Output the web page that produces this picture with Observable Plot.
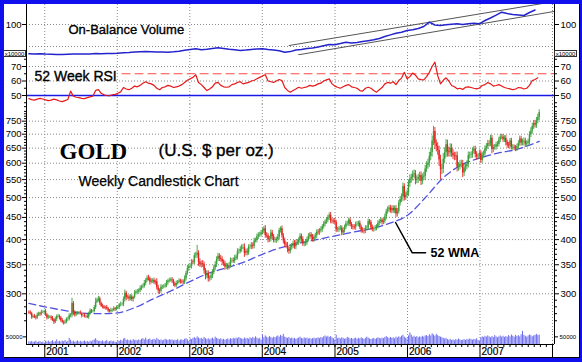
<!DOCTYPE html>
<html><head><meta charset="utf-8">
<script src="https://cdn.jsdelivr.net/npm/d3@7"></script>
<script src="https://cdn.jsdelivr.net/npm/@observablehq/plot@0.6"></script>
<style>
html,body{margin:0;padding:0;background:#fff;}
#wrap{position:relative;width:582px;height:362px;background:#1010ee;overflow:hidden;}
#inner{position:absolute;left:4px;top:4px;width:576px;height:354px;background:#fff;border-right:1px solid #000;border-bottom:1px solid #000;box-sizing:border-box;}
.box{position:absolute;border:1px solid #333;background:#fff;font:6px Arial,'Liberation Sans',sans-serif;line-height:6px;text-align:center;color:#000;box-sizing:border-box;}
</style></head>
<body>
<div id="wrap"><div id="inner"></div></div>
<script>
// ---------- DATA ----------
// weekly closes (Fridays), starting 2000-10-13
const close2000 = [271,270,265,266,265,264,268,270,269,272,272,273];
const close2001 = [268,264,265,265, 263,261,258,262, 266,266,264,260,258, 257,258,262,262, 267,268,285,272, 268,270,271,271,270, 267,267,266,266, 265,270,274,273,273, 279,287,290,292, 285,281,280,278, 279,277,274,273,275, 275,277,276,278];
const close2002 = [279,283,283,283, 291,301,294,295, 292,295,291,294,301, 303,303,305,309, 311,312,317,322,326, 325,319,321,322, 318,320,310,305, 304,311,311,312,313, 318,321,322,323, 321,316,313,317, 319,321,320,319,318, 325,334,343,347];
const close2003 = [347,355,354,367,368, 372,355,350,352, 350,339,330,334, 325,326,330,336, 344,350,360,366,362, 360,355,352,346, 348,346,348,358, 358,357,362,364,375, 375,380,384,384, 372,375,373,384,384, 388,386,397,398, 406,410,410,415];
const close2004 = [418,424,409,408,399, 401,414,406,398, 398,400,405,420, 424,408,397,389,388, 380,376,384,387, 392,385,394,393, 399,407,400,391,391, 394,400,407,410, 405,400,405,408, 416,415,419,422,428, 434,439,443,450, 455,441,440,442,438];
const close2005 = [421,421,424,425, 414,420,427,435, 435,443,433,428, 427,426,434,434,436, 427,420,419,418, 425,425,440,438, 426,422,423,425,428, 436,440,443,438, 441,451,464,469,473, 466,472,466,472, 458,464,485,495, 502,530,500,506,513];
const close2006 = [539,552,556,565, 567,548,550,556, 562,545,557,560,582, 593,600,622,635, 675,710,665,655, 642,610,580,582,613, 634,662,638,634, 650,632,624,621, 624,587,590,597,598, 570,585,590,596, 625,625,627,640, 646,628,620,622,632];
const close2007 = [609,626,631,648, 656,666,665,685, 645,652,653,662,663, 679,689,690,680, 685,669,660,657, 675,653,653,650,648, 655,666,682,668, 672,674,664,667,672, 698,712,729,741, 735,752,765,785];
const firstOpen = 272;

// upper / lower wick length ($) per week
const up2000 = [2,3,2,2,3,2,3,2,2,3,2,2];
const dn2000 = [2,2,3,2,2,3,2,2,3,2,2,3];
const up2001 = [3,2,3,2, 2,3,2,3, 2,3,2,2,3, 2,3,2,3, 3,2,8,3, 2,3,2,2,3, 2,2,3,2, 3,2,3,2,2, 3,6,3,4, 3,2,3,2, 2,3,2,2,3, 2,3,2,3];
const dn2001 = [2,3,2,2, 3,2,3,2, 3,2,3,2,2, 3,2,2,3, 2,3,4,5, 3,2,2,3,2, 3,2,2,3, 2,3,2,3,2, 2,3,2,3, 3,2,3,2, 3,2,3,2,2, 3,2,3,2];
const up2002 = [3,2,4,3, 4,5,3,3, 3,4,3,2,4, 3,4,3,4, 3,4,5,3,4, 5,3,4,3, 4,3,5,4, 3,4,3,3,4, 4,3,4,3, 4,3,3,4, 3,4,3,3,4, 5,4,6,4];
const dn2002 = [2,3,3,2, 3,4,5,3, 4,3,3,4,2, 3,3,4,3, 4,3,3,4,3, 4,5,3,4, 3,4,4,5, 5,3,4,3,3, 3,4,3,3, 4,4,3,3, 3,3,4,3,3, 3,4,3,5];
const up2003 = [4,5,4,5,6, 16,5,6,5, 6,5,4,5, 5,4,5,5, 5,6,5,6,5, 6,5,4,5, 5,4,6,5, 4,5,6,5,6, 5,6,5,6, 7,5,6,5,6, 6,5,6,5, 6,5,6,5];
const dn2003 = [4,5,4,4,5, 6,8,5,6, 5,6,7,5, 6,5,4,5, 4,5,5,4,6, 5,6,5,6, 5,6,5,4, 5,4,5,4,5, 5,4,6,5, 8,5,6,5,4, 5,6,5,4, 5,6,5,4];
const up2004 = [6,5,7,6,5, 6,7,6,5, 6,5,6,5, 4,6,5,6,5, 6,5,6,5, 5,6,5,6, 5,6,5,6,5, 6,5,6,5, 5,6,5,6, 5,6,5,6,5, 6,5,6,5, 6,7,6,5,6];
const dn2004 = [5,6,6,5,6, 5,6,6,5, 5,6,5,6, 6,5,6,5,6, 7,6,5,6, 6,5,6,5, 5,6,6,5,6, 5,6,5,6, 5,5,6,5, 6,5,6,5,6, 5,6,5,6, 7,6,5,6,5];
const up2005 = [5,6,5,6, 5,6,5,6, 6,5,6,5, 5,6,5,6,5, 6,5,6,5, 6,5,6,5, 5,6,5,6,5, 6,5,6,5, 6,7,6,7,6, 7,6,7,6, 7,8,7,8, 8,10,8,9,8];
const dn2005 = [6,5,6,5, 6,5,6,5, 5,6,5,6, 6,5,6,5,6, 5,6,5,6, 5,6,5,6, 6,5,6,5,6, 5,6,5,6, 5,6,7,6,7, 6,7,6,7, 8,7,6,7, 8,12,9,8,9];
const up2006 = [10,12,10,11, 12,10,11,10, 10,11,10,12,11, 12,13,14,15, 18,20,15,14, 14,15,16,15,18, 17,18,16,15, 15,14,13,12, 12,13,12,11,12, 11,12,11,12, 12,11,10,11, 10,11,10,9,10];
const dn2006 = [10,11,12,10, 11,13,10,11, 11,12,10,11,12, 11,12,13,14, 15,16,20,18, 16,20,30,15,14, 15,16,18,14, 14,13,12,13, 12,14,12,11,12, 14,11,12,11, 11,12,10,11, 10,11,10,9,10];
const up2007 = [9,10,9,10, 10,11,10,11, 10,9,10,9,10, 10,9,10,9, 9,10,9,10, 9,10,9,8,9, 9,10,11,10, 10,12,11,9,10, 11,12,13,12, 12,13,14,12];
const dn2007 = [10,9,10,9, 9,10,11,10, 14,10,9,10,9, 9,10,9,10, 10,11,10,9, 10,9,10,9,10, 9,10,9,11, 10,15,12,10,9, 10,11,12,11, 12,13,12,13];

// weekly volume (thousands)
const vol2000 = [18,15,20,14,16,22,13,17,19,12,15,10];
const vol2001 = [20,16,22,14,18,25,15,19,30,17,21,16,23, 18,26,15,20,40,28,17,22,14,19,24,16,21, 15,18,23,16,20,14,22,17,25,30,38,26,19, 22,18,24,16,20,27,15,19,23,17,21,14,12];
const vol2002 = [24,20,28,22,35,40,26,30,24,28,22,32,25, 28,24,30,26,34,38,30,42,28,32,36,26,30, 34,28,40,32,26,30,24,28,34,30,26,32,28, 30,24,28,26,32,22,28,30,26,34,38,30,20];
const vol2003 = [36,32,40,45,38,50,42,36,40,34,46,38,32, 38,30,36,42,34,48,40,36,32,38,30,34,28, 32,36,30,38,34,40,36,42,38,46,40,36,34, 42,36,40,34,44,38,46,40,50,42,36,40,28];
const vol2004 = [62,44,56,48,42,52,46,40,48,44,50,56,48, 60,52,66,48,44,40,46,38,42,36,40,34,38, 42,48,40,36,44,38,42,36,40,34,38,42,36, 40,44,38,46,42,50,56,48,54,46,52,44,38,30];
const vol2005 = [60,38,42,36,44,40,34,38,46,42,36,40,34, 38,42,34,40,36,44,38,34,40,48,42,36,32, 36,40,34,38,44,40,36,42,38,46,52,44,40, 46,40,44,38,48,42,50,46,54,60,48,42,36];
const vol2006 = [56,76,62,48,54,46,52,44,50,46,54,48,56, 58,52,64,56,70,62,54,66,58,52,48,44,40, 36,40,32,28,34,26,30,24,32,28,36,30,26, 28,32,26,34,30,36,32,28,34,30,38,26,22];
const vol2007 = [44,50,46,54,48,56,50,44,52,46,58,50,44, 50,56,48,54,46,52,48,58,50,62,54,48,60, 52,58,50,64,86,60,54,48,56,62,58,50,56, 60,66,58,62];

// 52-week RSI, every two weeks from 2000-10-13
const rsi2000 = [47.8,47.2,46.8,47.5,48.0,47.6];
const rsi2001 = [47.0,46.5,46.8,47.5,47.0,46.2,45.8,46.5,47.2,53.0,49.5,48.8,48.5,48.0,47.8,48.5,49.0,49.5,53.5,54.0,51.5,50.5,50.0,49.8,50.5,50.8];
const rsi2002 = [51.5,52.5,55.5,54.5,54.0,55.0,56.5,56.0,57.0,58.5,59.5,58.5,58.0,57.0,55.0,54.0,55.5,56.0,57.0,56.5,55.5,56.0,56.5,57.5,59.0,60.5];
const rsi2003 = [61.5,62.5,64.3,59.0,57.5,55.5,53.4,54.5,56.0,58.5,59.0,57.0,56.0,55.7,56.0,57.5,58.0,59.0,59.5,58.0,58.5,59.0,60.0,60.5,61.5,62.5];
const rsi2004 = [63.5,64.3,60.0,59.5,59.0,60.0,61.0,60.3,55.5,53.5,52.3,53.5,54.5,55.7,55.0,55.5,56.0,57.0,56.5,57.0,58.0,58.5,60.0,60.8,61.5,58.0,56.5];
const rsi2005 = [55.7,55.0,56.0,57.0,57.5,56.0,55.5,55.0,53.4,53.0,55.0,55.7,55.0,53.5,52.3,54.0,55.5,58.0,59.0,58.5,59.5,57.5,60.3,62.0,66.0,61.5];
const rsi2006 = [63.0,65.5,64.0,61.5,61.0,60.8,63.0,66.0,70.0,73.0,63.8,58.0,60.5,62.2,60.0,56.9,56.0,54.6,55.0,54.2,55.7,56.0,55.5,55.0,54.6,55.2];
const rsi2007 = [56.9,57.5,59.0,58.0,56.5,56.9,57.5,56.5,55.5,55.0,54.6,54.0,54.5,55.5,55.3,54.5,55.0,57.0,60.3,61.0,62.2];
const rsiOverbought = 65;
const rsiMid = 50;

// On-Balance Volume (x10000 units), every four weeks from 2000-10-13
const obvValues = [41.5,41.0,41.5,40.8,40.5,40.2,40.0,40.6,41.2,40.8, 41.0,41.2,42.0,41.6,41.8,42.2,42.6,43.5,44.0,44.8, 45.5,46.2,45.6,44.8,45.0,44.6,45.4,46.5,48.6,50.2, 51.4,49.4,50.4,52.2,53.4,52.0,50.6,49.5,48.2,49.0, 50.2,51.0,51.4,50.0,49.2,47.6,44.6,45.8,49.0,50.2, 52.0,53.0,54.8,57.6,60.2,59.6,61.8,64.6,63.2,64.0, 66.0,67.6,69.4,72.0,76.0,79.2,82.4,84.6,88.0,89.6, 92.0,96.0,104.6,99.0,98.0,99.4,100.6,101.4,100.0,101.6, 102.4,101.4,108.0,113.0,118.6,124.6,122.0,120.0,119.0,118.0, 124.0,129.0];
const obvChannelUpper = [{date:"2004-05-15", v:58}, {date:"2008-01-11", v:146}];
const obvChannelLower = [{date:"2004-07-01", v:39.4}, {date:"2008-01-08", v:126}];

// 52-week weighted moving average
const wmaDates = ["2000-10-13","2001-01-01","2001-04-01","2001-07-01","2001-10-01","2002-01-01","2002-04-01","2002-07-01","2002-10-01","2003-01-01","2003-04-01","2003-07-01","2003-10-01","2004-01-01","2004-04-01","2004-07-01","2004-10-01","2005-01-01","2005-04-01","2005-07-01","2005-10-01","2006-01-01","2006-04-01","2006-07-01","2006-10-01","2007-01-01","2007-04-01","2007-07-01","2007-10-26"];
const wmaValues = [285,280,275,271,270,271,279,292,305,320,334,344,355,370,383,392,400,408,416,424,436,455,500,556,595,617,633,645,674];
const wmaLeader = [{date:"2005-11-02", price:438}, {date:"2006-01-25", price:373}, {date:"2006-04-02", price:373}];
const wmaLabel = [{date:"2006-04-27", price:373, text:"52 WMA"}];

// axes
const priceTicks = [300,350,400,450,500,550,600,650,700,750];
const rsiTicks = [50,60,70];
const obvTicks = [100];
const obvGrid = [56,100];
const volTicks = [50];
const yearLabels = ["2001","2002","2003","2004","2005","2006","2007"];

// ---------- BUILD ----------
const FONT = "Arial, 'Liberation Sans', Helvetica, sans-serif";
const SERIF = "'Liberation Serif', 'Times New Roman', Times, serif";
const DAY = 864e5;
const X0 = new Date(Date.UTC(2000, 9, 1)), X1 = new Date(Date.UTC(2008, 0, 11));
const weekStart = Date.UTC(2000, 9, 13);

const closes = [].concat(close2000, close2001, close2002, close2003, close2004, close2005, close2006, close2007);
const wickUp = [].concat(up2000, up2001, up2002, up2003, up2004, up2005, up2006, up2007);
const wickDn = [].concat(dn2000, dn2001, dn2002, dn2003, dn2004, dn2005, dn2006, dn2007);
const volumes = [].concat(vol2000, vol2001, vol2002, vol2003, vol2004, vol2005, vol2006, vol2007);
const rsiValues = [].concat(rsi2000, rsi2001, rsi2002, rsi2003, rsi2004, rsi2005, rsi2006, rsi2007);

const candles = closes.map((c, i) => {
  const open = i === 0 ? firstOpen : closes[i - 1];
  return {date: new Date(weekStart + i * 7 * DAY), open, close: c,
          high: Math.max(open, c) + wickUp[i], low: Math.min(open, c) - wickDn[i], up: c >= open};
});
const volData = volumes.map((v, i) => ({date: new Date(weekStart + i * 7 * DAY), vol: v}));
const rsiData = rsiValues.map((v, i) => ({date: new Date(weekStart + i * 14 * DAY), v}));
const obvData = obvValues.map((v, i) => ({date: new Date(weekStart + i * 28 * DAY), v}));
const wmaData = wmaDates.map((d, i) => ({date: new Date(d), price: wmaValues[i]}));
const toDate = arr => arr.map(d => ({...d, date: new Date(d.date)}));
const rsiLine = [{date: new Date("2002-01-25"), v: rsiOverbought}, {date: X1, v: rsiOverbought}];

const yearTicks = d3.range(2001, 2009).map(y => new Date(Date.UTC(y, 0, 1)));
const monthTicks = d3.utcMonth.range(new Date(Date.UTC(2000, 10, 1)), X1);
const minorPrice = d3.range(250, 820, 10).filter(v => v % 50 !== 0);

const GRID = {stroke: "#8a8a8a", strokeOpacity: 1, strokeDasharray: "1,2"};
const TITLE = {fill: "#000", stroke: "#000", strokeWidth: 0.35, fontFamily: FONT, textAnchor: "start", frameAnchor: "top-left"};
const wrap = document.getElementById("wrap");

function panel(top, height, y, marks, marginBottom = 0, xAxis = null) {
  const svg = Plot.plot({
    width: 582, height, marginLeft: 26, marginRight: 28, marginTop: 0, marginBottom,
    x: {type: "utc", domain: [X0, X1], axis: xAxis, label: null},
    y: {...y, label: null},
    style: {background: "transparent", overflow: "visible", fontFamily: FONT, fontSize: "9.5px", color: "#000"},
    marks
  });
  svg.style.position = "absolute"; svg.style.left = "0px"; svg.style.top = top + "px";
  wrap.appendChild(svg);
}
const sideAxes = (ticks, fs = 9.5, fmt = undefined, size = 4) => [
  Plot.axisY({anchor: "left", ticks, tickSize: size, tickPadding: 1, fontSize: fs, label: null, tickFormat: fmt}),
  Plot.axisY({anchor: "right", ticks, tickSize: size, tickPadding: 2, fontSize: fs, label: null, tickFormat: fmt})
];
const edges = () => Plot.ruleX([X0, X1], {stroke: "#000", strokeWidth: 1});

// OBV panel
panel(4, 51, {domain: [38, 140]}, [
  Plot.gridX(yearTicks, GRID),
  Plot.gridY(obvGrid, GRID),
  Plot.line(toDate(obvChannelUpper), {x: "date", y: "v", stroke: "#555", strokeWidth: 1, clip: true}),
  Plot.line(toDate(obvChannelLower), {x: "date", y: "v", stroke: "#555", strokeWidth: 1, clip: true}),
  Plot.line(obvData, {x: "date", y: "v", stroke: "#2424cc", strokeWidth: 1.5}),
  Plot.text(["On-Balance Volume"], {...TITLE, text: d => d, dx: 42, dy: 20.3, fontSize: 13}),
  edges(),
  ...sideAxes(obvTicks)
]);

// RSI panel
panel(55, 49, {domain: [43.79, 77.59]}, [
  Plot.gridX(yearTicks, GRID),
  Plot.gridY([60, 70], GRID),
  Plot.ruleY([rsiMid], {stroke: "#1a1ae6", strokeWidth: 1.5}),
  Plot.line(rsiLine, {x: "date", y: "v", stroke: "#ff4848", strokeWidth: 1.1, strokeDasharray: "8,5"}),
  Plot.line(rsiData, {x: "date", y: "v", stroke: "#e81818", strokeWidth: 1.2}),
  Plot.text(["52 Week RSI"], {...TITLE, text: d => d, dx: 8, dy: 16, fontSize: 14}),
  edges(),
  ...sideAxes(rsiTicks),
  ...sideAxes([45, 55, 65, 75], 9.5, () => "", 2)
]);

// Price panel
const GREEN = "#3a9e3a", RED = "#e8201e";
panel(104, 227, {type: "log", domain: [245.6, 819.4]}, [
  Plot.gridX(yearTicks, GRID),
  Plot.gridY(priceTicks, GRID),
  Plot.line(wmaData, {x: "date", y: "price", stroke: "#5252e0", strokeWidth: 1.3, strokeDasharray: "7,4", curve: "monotone-x"}),
  Plot.ruleX(candles, {filter: d => d.up, x: "date", y1: "low", y2: "high", stroke: GREEN, strokeWidth: 0.9}),
  Plot.ruleX(candles, {filter: d => !d.up, x: "date", y1: "low", y2: "high", stroke: RED, strokeWidth: 0.9}),
  Plot.ruleX(candles, {filter: d => d.up, x: "date", y1: "open", y2: "close", stroke: GREEN, strokeWidth: 1.4}),
  Plot.ruleX(candles, {filter: d => !d.up, x: "date", y1: "open", y2: "close", stroke: RED, strokeWidth: 1.4}),
  Plot.line(toDate(wmaLeader), {x: "date", y: "price", stroke: "#000", strokeWidth: 1.5}),
  Plot.text(toDate(wmaLabel), {x: "date", y: "price", text: "text", textAnchor: "start", fontSize: 12.5, fontWeight: "bold", fontFamily: FONT, fill: "#000"}),
  Plot.text(["GOLD"], {...TITLE, text: d => d, dx: 33, dy: 38, fontSize: 23, fontWeight: "bold", fontFamily: SERIF, strokeWidth: 0}),
  Plot.text(["(U.S. $ per oz.)"], {...TITLE, text: d => d, dx: 132, dy: 39, fontSize: 17}),
  Plot.text(["Weekly Candlestick Chart"], {...TITLE, text: d => d, dx: 52, dy: 72, fontSize: 14, strokeWidth: 0.25}),
  edges(),
  ...sideAxes(priceTicks),
  ...sideAxes(minorPrice, 9.5, () => "", 2)
]);

// Volume panel + time axis
panel(331, 26, {domain: [0, 85]}, [
  Plot.gridX(yearTicks, GRID),
  Plot.ruleX(volData, {x: "date", y1: 0, y2: "vol", stroke: "#6c6cf0", strokeWidth: 1}),
  Plot.ruleY([0], {stroke: "#000"}),
  edges(),
  Plot.axisX({ticks: monthTicks, tickSize: 3, tickFormat: () => "", label: null}),
  Plot.axisX({ticks: yearTicks, tickSize: 13, tickFormat: () => "", label: null}),
  Plot.text(yearTicks.slice(0, yearLabels.length), {x: d => d, text: (d, i) => yearLabels[i], frameAnchor: "bottom", dy: 10, dx: 1.5, textAnchor: "start", fontSize: 10, fontFamily: FONT, fill: "#000", stroke: "#000", strokeWidth: 0.2}),
  ...sideAxes(volTicks, 6, d => String(d * 1000), 3)
], 13, undefined);

// x10000 scale boxes
for (const left of [3, 554]) {
  const b = document.createElement("div");
  b.className = "box"; b.textContent = "x10000";
  b.style.left = left + "px"; b.style.top = "50px"; b.style.width = "23px"; b.style.height = "7px";
  wrap.appendChild(b);
}
</script>
</body></html>
